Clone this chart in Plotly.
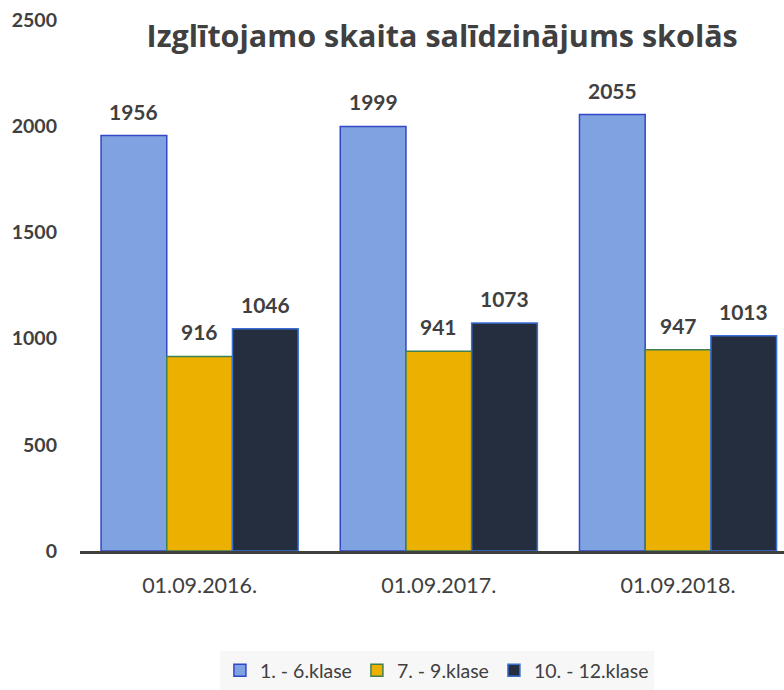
import plotly.graph_objects as go

categories = ["01.09.2016.", "01.09.2017.", "01.09.2018."]
series_names = ["1. - 6.klase", "7. - 9.klase", "10. - 12.klase"]
values_1_6 = [1956, 1999, 2055]
values_7_9 = [916, 941, 947]
values_10_12 = [1046, 1073, 1013]
y_ticks = [0, 500, 1000, 1500, 2000, 2500]

all_values = [values_1_6, values_7_9, values_10_12]
fills = ["#7FA3E0", "#EBB000", "#252E3E"]
borders = ["#3347C8", "#3F8050", "#3A70D6"]
FONT = "Lato"

BARGAP = 0.176
fig = go.Figure()
for name, vals, fc, bc in zip(series_names, all_values, fills, borders):
    fig.add_trace(go.Bar(
        x=categories, y=vals, name=name,
        marker=dict(color=fc, line=dict(color=bc, width=1.5)),
        hoverinfo="x+y+name",
    ))

# data labels above the bars
w = (1 - BARGAP) / 3
for j, vals in enumerate(all_values):
    for i, v in enumerate(vals):
        fig.add_annotation(
            x=i + (j - 1) * w, y=v, xref="x", yref="y",
            text=f"<b>{v}</b>", showarrow=False, yanchor="bottom", yshift=10,
            font=dict(family=FONT, size=21, color="#404040"),
        )

fig.update_layout(
    width=784, height=690,
    margin=dict(l=80, r=0, t=20, b=137),
    paper_bgcolor="white", plot_bgcolor="white",
    barmode="group", bargap=BARGAP, bargroupgap=0,
    title=dict(text="<b>Izglītojamo skaita salīdzinājums skolās</b>",
               x=0.564, xanchor="center", y=0.947, yanchor="middle",
               font=dict(family="Open Sans", size=30.5, color="#404040")),
    font=dict(family=FONT, color="#404040"),
    showlegend=True,
    legend=dict(orientation="h", x=0.507, xanchor="center", y=-0.225, yanchor="middle",
                bgcolor="#F7F7F7", font=dict(family=FONT, size=19.5, color="#404040"),
                itemwidth=30, traceorder="normal"),
    xaxis=dict(type="category", range=[-0.5, 2.443], showline=True, linecolor="#404040",
               linewidth=3, ticks="", showgrid=False,
               tickfont=dict(family=FONT, size=21.5, color="#404040"), ticklabelstandoff=13),
    yaxis=dict(range=[0, 2500], tickvals=y_ticks, ticktext=[f"<b>{t}</b>" for t in y_ticks],
               showgrid=False, zeroline=False, showline=False, ticks="",
               tickfont=dict(family=FONT, size=19.5, color="#404040"), ticklabelstandoff=22),
)

fig.write_html("out.html", config={"displayModeBar": False},
               post_script="document.body.style.margin='0';")
